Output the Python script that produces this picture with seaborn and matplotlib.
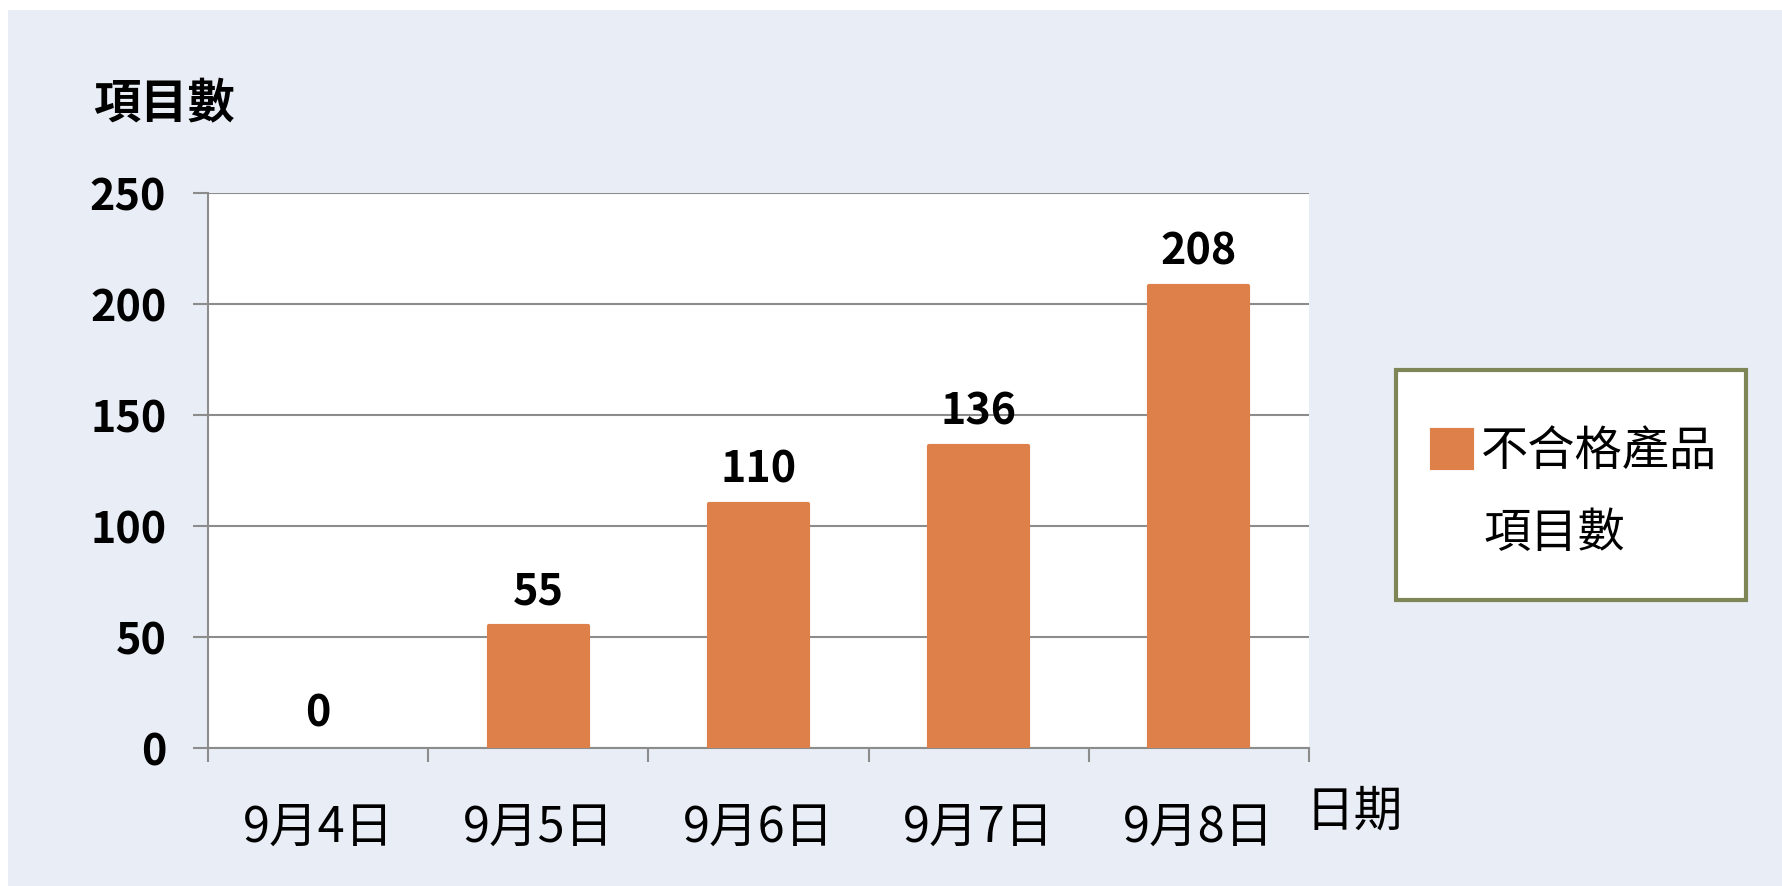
import matplotlib
matplotlib.use("Agg")
import matplotlib.pyplot as plt
from matplotlib.patches import Rectangle
from matplotlib.ticker import FixedLocator
import seaborn as sns
import pandas as pd

# chart data
dates = ["9月4日", "9月5日", "9月6日", "9月7日", "9月8日"]
counts = [0, 55, 110, 136, 208]
series_name = "不合格產品"
series_name2 = "項目數"
y_label = "項目數"
x_label = "日期"
y_ticks = [0, 50, 100, 150, 200, 250]

bar_color = "#DE8049"
grid_color = "#8C8C8C"
panel_color = "#E9EEF6"
legend_edge = "#7E8658"

sns.set_theme(style="white")
plt.rcParams["font.family"] = ["Noto Sans CJK TC", "DejaVu Sans"]
plt.rcParams["text.color"] = "black"
plt.rcParams["xtick.labelcolor"] = "black"
plt.rcParams["ytick.labelcolor"] = "black"

W, H = 1782, 886
fig = plt.figure(figsize=(W / 100, H / 100), dpi=100)
fig.patch.set_facecolor("white")

def fx(px):
    return px / W

def fy(py):
    return 1 - py / H

# light panel behind everything
fig.patches.append(Rectangle((fx(8), 0), 1 - fx(8), fy(10), transform=fig.transFigure,
                             facecolor=panel_color, edgecolor="none", zorder=-10))

ax = fig.add_axes([fx(208), fy(748), fx(1309) - fx(208), fy(193) - fy(748)])
ax.set_facecolor("white")

df = pd.DataFrame({"date": dates, "count": counts})
sns.barplot(data=df, x="date", y="count", color=bar_color, width=0.45,
            saturation=1, ax=ax, zorder=3)

for p, v in zip(ax.patches, counts):
    p.set_edgecolor(bar_color)
    p.set_joinstyle("round")
    p.set_linewidth(3 if v > 0 else 0)

ax.bar_label(ax.containers[0], labels=[str(v) for v in counts], padding=9,
             fontsize=31, fontweight="bold", color="black")

ax.set_ylim(0, 250)
ax.set_xlim(-0.5, len(dates) - 0.5)
ax.yaxis.set_major_locator(FixedLocator(y_ticks))
ax.grid(axis="y", color=grid_color, linewidth=1.5)
ax.set_axisbelow(True)

for s in ["top", "right"]:
    ax.spines[s].set_visible(False)
for s in ["left", "bottom"]:
    ax.spines[s].set_color(grid_color)
    ax.spines[s].set_linewidth(1.5)

ax.set_xlabel("")
ax.set_ylabel("")
ax.tick_params(axis="y", which="major", length=11, width=1.5, color=grid_color,
               left=True, labelsize=31, pad=19, labelcolor="black")
for t in ax.get_yticklabels():
    t.set_fontweight("bold")
ax.tick_params(axis="x", which="major", length=0, labelsize=35, pad=40, labelcolor="black")
ax.xaxis.set_minor_locator(FixedLocator([i - 0.5 for i in range(len(dates) + 1)]))
ax.tick_params(axis="x", which="minor", length=10, width=1.5, color=grid_color, bottom=True)

fig.text(fx(164), fy(104), y_label, ha="center", va="center", fontsize=34,
         fontweight="bold", color="black")
fig.text(fx(1306), fy(812), x_label, ha="left", va="center", fontsize=35, color="black")

# legend box
fig.patches.append(Rectangle((fx(1396), fy(600)), fx(1746) - fx(1396), fy(370) - fy(600),
                             transform=fig.transFigure, facecolor="white",
                             edgecolor=legend_edge, linewidth=3, zorder=5))
leg = fig.legend(handles=[ax.patches[1]], labels=[series_name], loc="center left",
                 bbox_to_anchor=(fx(1432), fy(452)), bbox_transform=fig.transFigure,
                 frameon=False, borderaxespad=0, borderpad=0, fontsize=34,
                 handlelength=0.84, handleheight=0.84, handletextpad=0.2,
                 labelcolor="black")
leg.set_zorder(6)
fig.text(fx(1483), fy(534), series_name2, ha="left", va="center", fontsize=34,
         color="black", zorder=7)

fig.savefig("out.png", dpi=100, facecolor=fig.get_facecolor())
